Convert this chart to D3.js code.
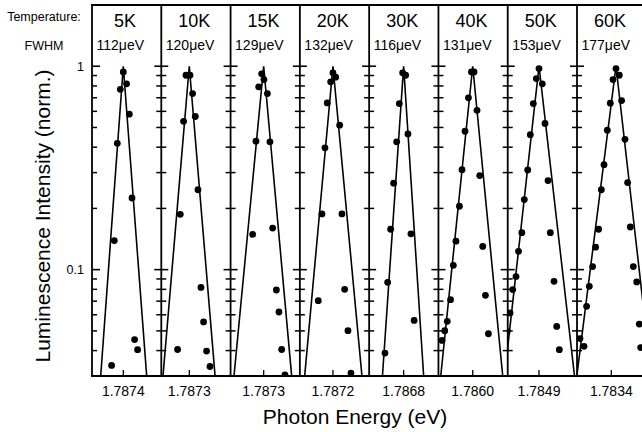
<!DOCTYPE html>
<html><head><meta charset="utf-8">
<script src="https://cdn.jsdelivr.net/npm/d3@7"></script>
<style>
body{margin:0;background:#fff}
text{font-family:"Liberation Sans",Arial,Helvetica,sans-serif;fill:#000}
</style>
</head><body>
<svg id="c" width="642" height="432"></svg>
<script>
// ---- data ----
const temperatures = ["5K","10K","15K","20K","30K","40K","50K","60K"];
const fwhmLabels = ["112\u03bceV","120\u03bceV","129\u03bceV","132\u03bceV","116\u03bceV","131\u03bceV","153\u03bceV","177\u03bceV"];
const peakLabels = ["1.7874","1.7873","1.7873","1.7872","1.7868","1.7860","1.7849","1.7834"];
// relative energy (μeV, offset from the peak tick) at each panel's left edge; span of each panel
const xMin = [-313,-280,-331,-331,-345,-343,-313,-343];
const xSpan = 693;
const yDomain = [0.03, 2];
const majorTicks = [0.1, 1];
const minorTicks = [0.04,0.05,0.06,0.07,0.08,0.09,0.2,0.3,0.4,0.5,0.6,0.7,0.8,0.9];

// measured points: [relative energy (μeV), normalized intensity]
const data5K = [[0,0.938],[-30,0.77],[33,0.819],[60,0.581],[-60,0.418],[87,0.225],[-90,0.139],[113,0.0453],[143,0.0404],[-117,0.0338]];
const data10K = [[-33,0.903],[7,0.903],[33,0.734],[-57,0.536],[60,0.566],[87,0.247],[-90,0.187],[117,0.0818],[143,0.0553],[-117,0.0405],[173,0.0398],[207,0.0334]];
const data15K = [[-20,0.918],[3,0.86],[-50,0.792],[37,0.734],[-77,0.428],[63,0.425],[-110,0.149],[90,0.16],[127,0.0794],[153,0.0619],[180,0.0405],[213,0.0304]];
const data20K = [[0,0.928],[27,0.883],[-23,0.838],[-57,0.66],[67,0.513],[-80,0.397],[-110,0.188],[90,0.188],[-147,0.0704],[117,0.08],[150,0.0501],[180,0.031]];
const data30K = [[-10,0.928],[20,0.903],[-43,0.655],[43,0.465],[-70,0.425],[-100,0.266],[-130,0.158],[73,0.15],[-160,0.0866],[105,0.0563],[-187,0.0389]];
const data40K = [[-13,0.938],[13,0.938],[-43,0.699],[43,0.607],[-77,0.479],[-107,0.31],[70,0.29],[-133,0.205],[-168,0.138],[100,0.13],[-194,0.105],[-222,0.0712],[127,0.0748],[-255,0.0557],[-280,0.0501],[-307,0.0449],[157,0.0484]];
const data50K = [[0,0.974],[-27,0.87],[33,0.819],[-57,0.655],[60,0.523],[-87,0.461],[-113,0.309],[90,0.274],[-147,0.221],[-172,0.152],[113,0.152],[-205,0.123],[-230,0.0924],[-263,0.0798],[150,0.0876],[-290,0.0612],[-318,0.0497],[177,0.0526],[203,0.0404]];
const data60K = [[47,0.974],[17,0.86],[80,0.903],[-10,0.658],[103,0.678],[-40,0.485],[137,0.437],[-73,0.328],[-100,0.247],[163,0.268],[-127,0.158],[190,0.162],[-157,0.129],[-187,0.1035],[220,0.1035],[-220,0.0828],[254,0.087],[-247,0.066],[-313,0.0458],[-273,0.042],[280,0.054],[294,0.0414]];
const spectra = [data5K,data10K,data15K,data20K,data30K,data40K,data50K,data60K];

// fitted line shapes: [relative energy (μeV), intensity]
const fit5K = [[-226,0.03],[0,1],[234,0.03]];
const fit10K = [[-263,0.03],[0,1],[258,0.03]];
const fit15K = [[-297,0.03],[0,1],[280,0.03]];
const fit20K = [[-283,0.03],[0,1],[290,0.03]];
const fit30K = [[-212,0.03],[0,1],[200,0.03]];
const fit40K = [[-320,0.03],[0,1],[300,0.03]];
const fit50K = [[-345,0.03],[0,1],[355,0.03]];
const fit60K = [[-345,0.03],[47,1],[400,0.03]];
const fits = [fit5K,fit10K,fit15K,fit20K,fit30K,fit40K,fit50K,fit60K];

// ---- drawing ----
const svg = d3.select("#c");
const band = d3.scaleBand().domain(temperatures).range([92, 646.3]).padding(0);
const y = d3.scaleLog().domain(yDomain).range([376, 5]);
const yTop = y(yDomain[1]), yBot = y(yDomain[0]);
const defs = svg.append("defs");

temperatures.forEach((t, i) => {
  const L = band(t), w = band.bandwidth();
  const x = d3.scaleLinear().domain([xMin[i], xMin[i] + xSpan]).range([L, L + w]);
  defs.append("clipPath").attr("id", "clip" + i)
    .append("rect").attr("x", L).attr("y", yTop).attr("width", w).attr("height", yBot - yTop);
  const g = svg.append("g").attr("clip-path", `url(#clip${i})`);
  const line = d3.line().x(d => x(d[0])).y(d => y(d[1]));
  g.append("path").attr("d", line(fits[i])).attr("fill", "none")
    .attr("stroke", "#000").attr("stroke-width", 1.6).attr("stroke-linejoin", "miter");
  g.selectAll("circle").data(spectra[i]).join("circle")
    .attr("cx", d => x(d[0])).attr("cy", d => y(d[1])).attr("r", 3.4).attr("fill", "#000");

  // left ticks
  svg.append("g").selectAll("line.maj").data(majorTicks).join("line")
    .attr("x1", i === 0 ? L : L - 7).attr("x2", i === 0 ? L + 8 : L + 7)
    .attr("y1", d => y(d)).attr("y2", d => y(d))
    .attr("stroke", "#000").attr("stroke-width", 1.6);
  svg.append("g").selectAll("line.min").data(minorTicks).join("line")
    .attr("x1", i === 0 ? L : L - 5).attr("x2", L + 5)
    .attr("y1", d => y(d)).attr("y2", d => y(d))
    .attr("stroke", "#000").attr("stroke-width", 1.5);

  // bottom tick + label
  svg.append("line").attr("x1", x(0)).attr("x2", x(0)).attr("y1", yBot - 6).attr("y2", yBot)
    .attr("stroke", "#000").attr("stroke-width", 1.3);
  svg.append("text").attr("x", x(0)).attr("y", 395.5).attr("text-anchor", "middle")
    .attr("font-size", 14).text(peakLabels[i]);

  // headers
  svg.append("text").attr("x", L + 33).attr("y", 27).attr("text-anchor", "middle")
    .attr("font-size", 18).text(t);
  svg.append("text").attr("x", L + 4.5).attr("y", 50).attr("text-anchor", "start")
    .attr("font-size", 14).text(fwhmLabels[i]);
});

// frame
const x0 = band.range()[0], x1 = band.range()[1];
svg.append("line").attr("x1", x0 - 1).attr("x2", x1).attr("y1", yTop).attr("y2", yTop)
  .attr("stroke", "#000").attr("stroke-width", 2);
svg.append("line").attr("x1", x0 - 1).attr("x2", x1).attr("y1", yBot).attr("y2", yBot)
  .attr("stroke", "#000").attr("stroke-width", 2);
temperatures.concat(["end"]).forEach((t, i) => {
  const X = i < temperatures.length ? band(t) : x1;
  svg.append("line").attr("x1", X).attr("x2", X).attr("y1", yTop).attr("y2", yBot)
    .attr("stroke", "#000").attr("stroke-width", 1.8);
});

// y tick labels
majorTicks.forEach(v => {
  svg.append("text").attr("x", 84).attr("y", y(v) + 4.5).attr("text-anchor", "end")
    .attr("font-size", 12.5).text(v === 1 ? "1" : "0.1");
});

// row labels
svg.append("text").attr("x", 44).attr("y", 20.5).attr("text-anchor", "middle")
  .attr("font-size", 12.5).text("Temperature:");
svg.append("text").attr("x", 44).attr("y", 49.5).attr("text-anchor", "middle")
  .attr("font-size", 12.5).text("FWHM");

// axis titles
svg.append("text").attr("x", 355).attr("y", 424).attr("text-anchor", "middle")
  .attr("font-size", 21).text("Photon Energy (eV)");
svg.append("text").attr("transform", "translate(50,216) rotate(-90)").attr("text-anchor", "middle")
  .attr("font-size", 21).text("Luminescence Intensity (norm.)");
</script>
</body></html>
